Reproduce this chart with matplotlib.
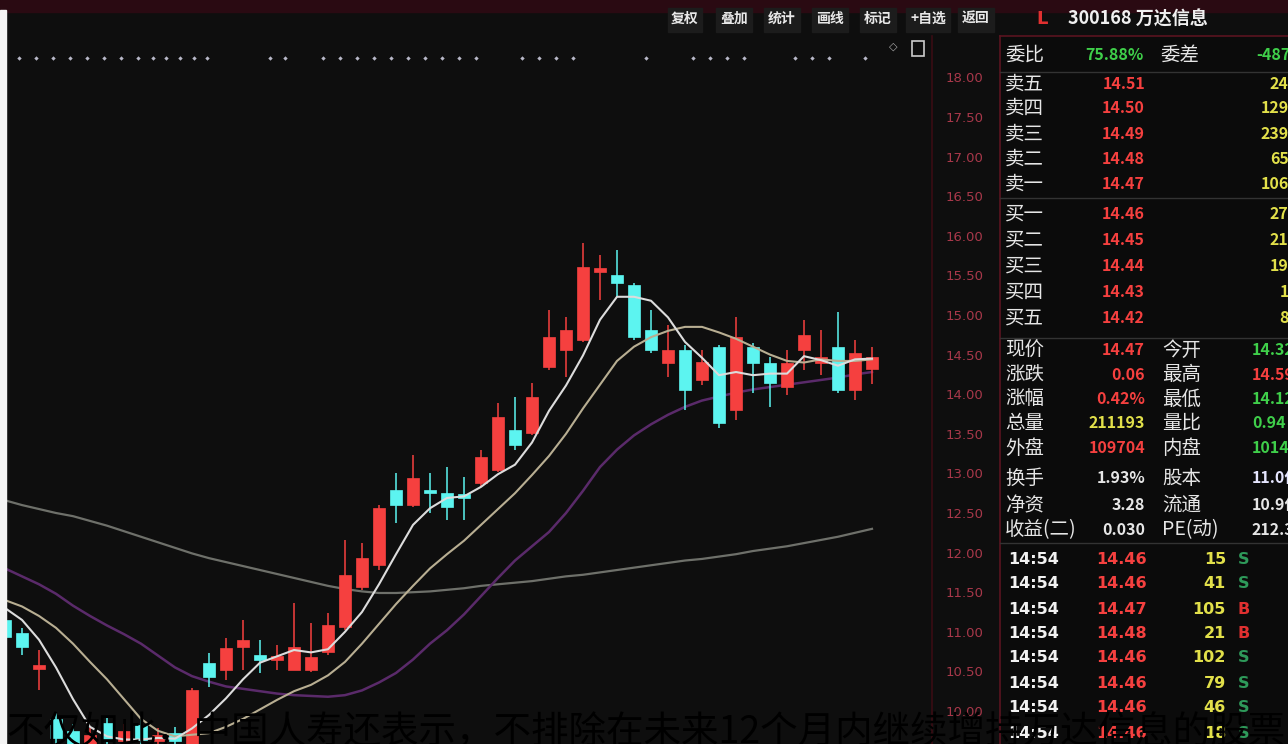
import matplotlib
matplotlib.use('Agg')
import matplotlib.pyplot as plt
from matplotlib.patches import Rectangle

W, H = 1288, 744
plt.rcParams['font.family'] = ['Noto Sans CJK SC', 'DejaVu Sans']

# ---------------- data ----------------
opens = [11.15, 10.98, 10.53, 9.90, 9.75, 9.56, 9.85, 9.62, 9.82, 9.62, 9.72, 9.50, 10.61, 10.52,
         10.81, 10.71, 10.64, 10.52, 10.52, 10.74, 11.06, 11.57, 11.84, 12.79, 12.60, 12.79, 12.75,
         12.73, 12.88, 13.04, 13.55, 13.51, 14.34, 14.56, 14.68, 15.54, 15.50, 15.38, 14.81, 14.39,
         14.56, 14.18, 14.60, 13.80, 14.60, 14.39, 14.09, 14.56, 14.39, 14.60, 14.05, 14.32]
closes = [10.93, 10.81, 10.58, 9.66, 9.56, 9.70, 9.62, 9.75, 9.63, 9.70, 9.62, 10.27, 10.43, 10.80,
          10.90, 10.64, 10.69, 10.81, 10.68, 11.09, 11.72, 11.93, 12.56, 12.60, 12.94, 12.75, 12.58,
          12.69, 13.21, 13.71, 13.36, 13.96, 14.72, 14.81, 15.61, 15.59, 15.40, 14.72, 14.56, 14.56,
          14.05, 14.41, 13.64, 14.72, 14.39, 14.14, 14.39, 14.75, 14.47, 14.05, 14.52, 14.47]
highs = [11.20, 11.05, 10.77, 9.99, 9.84, 9.78, 9.92, 9.84, 9.90, 9.79, 9.80, 10.29, 10.73, 10.92,
         11.15, 10.90, 10.83, 11.36, 11.11, 11.24, 12.16, 12.12, 12.60, 13.00, 13.23, 13.00, 13.08,
         12.95, 13.30, 13.89, 13.96, 14.14, 15.06, 14.97, 15.91, 15.76, 15.82, 15.40, 15.06, 14.87,
         14.62, 14.56, 14.62, 14.97, 14.65, 14.47, 14.56, 14.94, 14.81, 15.04, 14.68, 14.59]
lows = [10.90, 10.71, 10.27, 9.50, 9.45, 9.48, 9.52, 9.55, 9.55, 9.55, 9.52, 9.45, 10.30, 10.39,
        10.52, 10.48, 10.52, 10.52, 10.49, 10.71, 11.02, 11.53, 11.78, 12.37, 12.58, 12.50, 12.41,
        12.41, 12.83, 13.02, 13.30, 13.48, 14.31, 14.22, 14.66, 15.19, 15.23, 14.68, 14.52, 14.22,
        13.80, 14.12, 13.57, 13.67, 14.02, 13.84, 13.99, 14.31, 14.24, 14.02, 13.93, 14.13]

ma5 = [11.30, 11.15, 10.90, 10.55, 10.15, 9.80, 9.68, 9.64, 9.64, 9.66, 9.65, 9.78, 9.95, 10.16,
       10.40, 10.61, 10.69, 10.77, 10.74, 10.78, 11.00, 11.25, 11.60, 11.98, 12.35, 12.56, 12.69,
       12.71, 12.83, 12.99, 13.11, 13.39, 13.79, 14.11, 14.49, 14.94, 15.23, 15.23, 15.18, 14.97,
       14.66, 14.46, 14.24, 14.28, 14.24, 14.26, 14.26, 14.48, 14.43, 14.36, 14.44, 14.45]
ma10 = [11.40, 11.32, 11.20, 11.05, 10.85, 10.62, 10.40, 10.15, 9.90, 9.75, 9.68, 9.70, 9.72, 9.80,
        9.90, 10.02, 10.14, 10.25, 10.33, 10.45, 10.62, 10.85, 11.10, 11.35, 11.58, 11.80, 11.98,
        12.15, 12.35, 12.55, 12.75, 12.98, 13.22, 13.50, 13.82, 14.12, 14.42, 14.60, 14.72, 14.80,
        14.85, 14.85, 14.78, 14.70, 14.60, 14.50, 14.42, 14.40, 14.44, 14.42, 14.42, 14.44]
ma20 = [11.80, 11.70, 11.60, 11.48, 11.33, 11.20, 11.08, 10.97, 10.85, 10.70, 10.55, 10.44, 10.37,
        10.31, 10.28, 10.25, 10.22, 10.20, 10.19, 10.18, 10.20, 10.26, 10.36, 10.48, 10.65, 10.85,
        11.02, 11.22, 11.45, 11.68, 11.90, 12.08, 12.26, 12.50, 12.78, 13.08, 13.30, 13.48, 13.62,
        13.74, 13.84, 13.92, 13.97, 14.02, 14.06, 14.09, 14.12, 14.15, 14.18, 14.21, 14.25, 14.28]
ma60 = [12.66, 12.60, 12.55, 12.50, 12.46, 12.40, 12.34, 12.27, 12.20, 12.13, 12.06, 11.99, 11.93,
        11.88, 11.83, 11.78, 11.73, 11.68, 11.63, 11.58, 11.54, 11.51, 11.49, 11.49, 11.50, 11.51,
        11.53, 11.55, 11.58, 11.60, 11.62, 11.64, 11.67, 11.70, 11.72, 11.75, 11.78, 11.81, 11.84,
        11.87, 11.90, 11.92, 11.95, 11.98, 12.02, 12.05, 12.08, 12.12, 12.16, 12.20, 12.25, 12.30]

price_ticks = [10.0, 10.5, 11.0, 11.5, 12.0, 12.5, 13.0, 13.5, 14.0, 14.5, 15.0, 15.5, 16.0,
               16.5, 17.0, 17.5, 18.0]
marker_idx = [0.8, 1.8, 2.8, 3.8, 4.8, 5.8, 6.8, 7.8, 8.7, 9.5, 10.3, 11.1, 11.9, 15.6, 16.5,
              18.7, 19.7, 20.7, 21.7, 22.7, 23.7, 24.7, 25.7, 26.7, 27.7, 30.4, 31.4, 32.4,
              33.4, 37.7, 40.5, 41.5, 42.5, 43.5, 46.5, 47.5, 48.5, 50.6]
marker_level = 18.25

toolbar = ['复权', '叠加', '统计', '画线', '标记', '+自选', '返回']
stock_title = '300168 万达信息'

book_labels = ['卖五', '卖四', '卖三', '卖二', '卖一', '买一', '买二', '买三', '买四', '买五']
book_prices = ['14.51', '14.50', '14.49', '14.48', '14.47', '14.46', '14.45', '14.44', '14.43', '14.42']
book_vols = ['246', '1291', '2391', '659', '1067', '274', '211', '197', '15', '86']

info_left = ['现价', '涨跌', '涨幅', '总量', '外盘', '换手', '净资', '收益(二)']
info_left_vals = ['14.47', '0.06', '0.42%', '211193', '109704', '1.93%', '3.28', '0.030']
info_right = ['今开', '最高', '最低', '量比', '内盘', '股本', '流通', 'PE(动)']
info_right_vals = ['14.32', '14.59', '14.12', '0.94', '101489', '11.0亿', '10.9亿', '212.3']

tick_times = ['14:54'] * 8
tick_prices = ['14.46', '14.46', '14.47', '14.48', '14.46', '14.46', '14.46', '14.46']
tick_vols = ['15', '41', '105', '21', '102', '79', '46', '18']
tick_sides = ['S', 'S', 'B', 'B', 'S', 'S', 'S', 'S']

caption = '不仅如此，中国人寿还表示，不排除在未来12个月内继续增持万达信息的股票'

# ---------------- colours ----------------
BG = '#0e0e0e'
RED = '#f5403f'
CYAN = '#5cf4f0'
WHITE = '#e6e6e6'
GREEN = '#3fcf4a'
YELLOW = '#e2e04a'

fig = plt.figure(figsize=(W / 100, H / 100), dpi=100, facecolor=BG)


def fx(x):
    return x / W


def fy(y):
    return 1 - y / H


# price <-> pixel mapping of reference: 15.00 at y=315, 0.5 per 39.6 px
def pr(y):
    return 15 - (y - 315) / 79.2


ax = fig.add_axes([0, 0, 930 / W, 1])
ax.set_facecolor(BG)
ax.set_xlim(-5 / 17, 925 / 17)
ax.set_ylim(pr(744), pr(0))
for s in ax.spines.values():
    s.set_visible(False)
ax.set_xticks([])
ax.yaxis.tick_right()
ax.set_yticks(price_ticks)
ax.set_yticklabels([f'{t:.2f}' for t in price_ticks])
ax.tick_params(axis='y', length=0, pad=11, labelcolor='#a8384a', labelsize=9.5)
for lab in ax.get_yticklabels():
    lab.set_family('DejaVu Sans')

idx = list(range(len(opens)))
# moving average lines
ax.plot(idx, ma60, color='#6e706a', lw=1.6, zorder=2)
ax.plot(idx, ma20, color='#5a2a6a', lw=1.8, zorder=2)
ax.plot(idx, ma10, color='#b8ae92', lw=1.5, zorder=4)
ax.plot(idx, ma5, color='#dcdcdc', lw=1.5, zorder=5)

# candles
bw = 0.7
for i in idx:
    o, c, h, l = opens[i], closes[i], highs[i], lows[i]
    col = RED if c >= o else CYAN
    ax.vlines(i, l, h, color=col, lw=1.1, zorder=3)
    bot = min(o, c)
    ht = max(abs(c - o), 0.045)
    ax.bar(i, ht, bottom=bot, width=bw, color=col, edgecolor=col, lw=0.5, zorder=3)

# marker dots
ax.scatter(marker_idx, [marker_level] * len(marker_idx), marker='D', s=5,
           color='#b8b8c8', zorder=3, linewidths=0)

# ---------------- decorations ----------------
# top maroon band
fig.patches.append(Rectangle((0, fy(12)), 1, 12 / H, transform=fig.transFigure,
                             color='#2a0a12', zorder=0))
# left white strip
fig.patches.append(Rectangle((0, 0), fx(6), fy(10), transform=fig.transFigure,
                             color='#f4f4f4', zorder=10))
# right panel background and separators
fig.patches.append(Rectangle((fx(1000), 0), 1 - fx(1000), fy(36), transform=fig.transFigure,
                             color='#0b0b0b', zorder=0))
fig.add_artist(plt.Line2D([fx(932), fx(932)], [0, fy(36)], color='#3a0c14', lw=1.2))
fig.add_artist(plt.Line2D([fx(1000), fx(1000)], [0, fy(36)], color='#5a1420', lw=1.2))
fig.add_artist(plt.Line2D([fx(1000), 1], [fy(36), fy(36)], color='#5a1420', lw=1.2))
for yy in [72, 198, 338, 543]:
    fig.add_artist(plt.Line2D([fx(1000), 1], [fy(yy), fy(yy)], color='#333333', lw=1))

# toolbar buttons
btn_x = [668, 716, 764, 812, 860, 906, 958]
btn_w = [34, 36, 36, 36, 36, 44, 36]
for bx, bwid, t in zip(btn_x, btn_w, toolbar):
    fig.patches.append(Rectangle((fx(bx), fy(32)), bwid / W, 24 / H, transform=fig.transFigure,
                                 color='#1c1c1c', zorder=1))
    fig.text(fx(bx + bwid / 2), fy(19), t, color='#e8e8e8', fontsize=10, fontweight='bold',
             ha='center', va='center', zorder=2)
# small icons under toolbar
fig.text(fx(893), fy(47), '◇', color='#aaaaaa', fontsize=8, ha='center', va='center',
         family=['DejaVu Sans'])
fig.patches.append(Rectangle((fx(912), fy(56)), 12 / W, 15 / H, transform=fig.transFigure,
                             fill=False, edgecolor='#cccccc', lw=1.2, zorder=2))

# header
fig.text(fx(1036), fy(19), 'L', color='#e03030', fontsize=13, fontweight='bold',
         ha='left', va='center', family=['DejaVu Sans'])
fig.text(fx(1068), fy(19), stock_title, color='#f0f0f0', fontsize=13, fontweight='bold',
         ha='left', va='center')

# 委比 row
fig.text(fx(1005), fy(55), '委比', color=WHITE, fontsize=14, ha='left', va='center')
fig.text(fx(1143), fy(55), '75.88%', color=GREEN, fontsize=11.5, fontweight='bold',
         ha='right', va='center')
fig.text(fx(1160), fy(55), '委差', color=WHITE, fontsize=14, ha='left', va='center')
fig.text(fx(1300), fy(55), '-4877', color=GREEN, fontsize=11.5, fontweight='bold',
         ha='right', va='center')

# order book
book_y = [84, 108, 134, 159, 184, 214, 240, 266, 292, 318]
for yy, lab, p, v in zip(book_y, book_labels, book_prices, book_vols):
    fig.text(fx(1005), fy(yy), lab, color=WHITE, fontsize=14, ha='left', va='center')
    fig.text(fx(1145), fy(yy), p, color=RED, fontsize=11.5, fontweight='bold',
             ha='right', va='center')
    fig.text(fx(1298), fy(yy), v, color=YELLOW, fontsize=11.5, fontweight='bold',
             ha='right', va='center')

# info block
info_y = [350, 375, 399, 423, 448, 478, 505, 530]
left_cols = [RED, RED, RED, YELLOW, RED, WHITE, WHITE, WHITE]
right_cols = [GREEN, RED, GREEN, GREEN, GREEN, '#e6e6ff', WHITE, WHITE]
for k, yy in enumerate(info_y):
    fig.text(fx(1005), fy(yy), info_left[k], color=WHITE, fontsize=14, ha='left', va='center')
    fig.text(fx(1145), fy(yy), info_left_vals[k], color=left_cols[k], fontsize=11.5,
             fontweight='bold', ha='right', va='center')
    fig.text(fx(1162), fy(yy), info_right[k], color=WHITE, fontsize=14, ha='left', va='center')
    fig.text(fx(1252), fy(yy), info_right_vals[k], color=right_cols[k], fontsize=11.5,
             fontweight='bold', ha='left', va='center')

# tick list
tick_y = [560, 584, 609, 634, 658, 683, 708, 733]
for k, yy in enumerate(tick_y):
    fig.text(fx(1008), fy(yy), tick_times[k], color='#f2f2f2', fontsize=11.5, fontweight='bold',
             ha='left', va='center', family=['DejaVu Sans'])
    fig.text(fx(1147), fy(yy), tick_prices[k], color=RED, fontsize=11.5, fontweight='bold',
             ha='right', va='center', family=['DejaVu Sans'])
    fig.text(fx(1226), fy(yy), tick_vols[k], color=YELLOW, fontsize=11.5, fontweight='bold',
             ha='right', va='center', family=['DejaVu Sans'])
    side_col = '#e03030' if tick_sides[k] == 'B' else '#2e9a5a'
    fig.text(fx(1244), fy(yy), tick_sides[k], color=side_col, fontsize=11.5, fontweight='bold',
             ha='center', va='center', family=['DejaVu Sans'])

# caption overlay
fig.text(fx(6), fy(733), caption, color='#000000', fontsize=27, ha='left', va='center',
         zorder=20)

fig.savefig('out.png', dpi=100, facecolor=BG)
